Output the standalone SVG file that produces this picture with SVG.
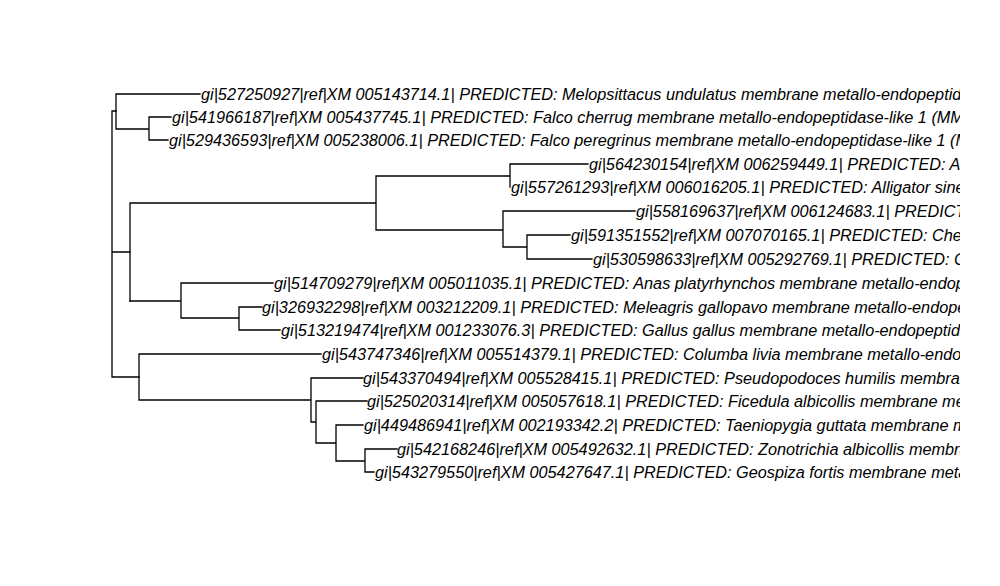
<svg xmlns="http://www.w3.org/2000/svg" width="1000" height="586" viewBox="0 0 1000 586">
<defs>
<clipPath id="plotclip"><rect x="0" y="0" width="960" height="586"/></clipPath>
</defs>
<style>
.e{fill:none;stroke:#000;stroke-width:1.3;stroke-linecap:square}
.t{font-family:"Liberation Sans",Arial,sans-serif;font-style:italic;font-size:16.25px;fill:#000}
</style>
<rect width="1000" height="586" fill="#fff"/>
<g id="connectors">
<path class="e" d="M112,111V377 M112,111H116 M112,252H130 M112,377H139"/>
<path class="e" d="M116,94V129 M116,94H200 M116,129H149 M149,117V140 M149,117H171 M149,140H168"/>
<path class="e" d="M130,203V301 M130,203H376 M376,176V230 M376,176H510 M510,164V187 M510,164H588 M376,230H503 M503,211V247 M503,211H635 M503,247H527 M527,235V259 M527,235H570 M527,259H592"/>
<path class="e" d="M130,301H181 M181,283V318 M181,283H273 M181,318H239 M239,307V330 M239,307H262 M239,330H280"/>
<path class="e" d="M139,354V400 M139,354H321 M139,400H311 M311,378V422 M311,378H363 M311,422H316 M316,401V443 M316,401H367 M316,443H336 M336,425V461 M336,425H363 M336,461H365 M365,449V472 M365,449H397 M365,472H374"/>
</g>
<g clip-path="url(#plotclip)">
<g id="tip1"><text class="t" x="201" y="100">gi|527250927|ref|XM 005143714.1| PREDICTED: Melopsittacus undulatus membrane metallo-endopeptidase</text></g>
<g id="tip2"><text class="t" x="172" y="123">gi|541966187|ref|XM 005437745.1| PREDICTED: Falco cherrug membrane metallo-endopeptidase-like 1 (MMEL1)</text></g>
<g id="tip3"><text class="t" x="169" y="146">gi|529436593|ref|XM 005238006.1| PREDICTED: Falco peregrinus membrane metallo-endopeptidase-like 1 (MMEL1)</text></g>
<g id="tip4"><text class="t" x="589" y="170">gi|564230154|ref|XM 006259449.1| PREDICTED: Alligator</text></g>
<g id="tip5"><text class="t" x="511" y="193">gi|557261293|ref|XM 006016205.1| PREDICTED: Alligator sinensis</text></g>
<g id="tip6"><text class="t" x="636" y="217">gi|558169637|ref|XM 006124683.1| PREDICTED</text></g>
<g id="tip7"><text class="t" x="571" y="241">gi|591351552|ref|XM 007070165.1| PREDICTED: Chelonia</text></g>
<g id="tip8"><text class="t" x="593" y="265">gi|530598633|ref|XM 005292769.1| PREDICTED: Chrysemys</text></g>
<g id="tip9"><text class="t" x="274" y="289">gi|514709279|ref|XM 005011035.1| PREDICTED: Anas platyrhynchos membrane metallo-endopeptidase</text></g>
<g id="tip10"><text class="t" x="262" y="313">gi|326932298|ref|XM 003212209.1| PREDICTED: Meleagris gallopavo membrane metallo-endopeptidase</text></g>
<g id="tip11"><text class="t" x="281" y="336">gi|513219474|ref|XM 001233076.3| PREDICTED: Gallus gallus membrane metallo-endopeptidase</text></g>
<g id="tip12"><text class="t" x="322" y="360">gi|543747346|ref|XM 005514379.1| PREDICTED: Columba livia membrane metallo-endopeptidase</text></g>
<g id="tip13"><text class="t" x="363" y="384">gi|543370494|ref|XM 005528415.1| PREDICTED: Pseudopodoces humilis membrane</text></g>
<g id="tip14"><text class="t" x="367" y="407">gi|525020314|ref|XM 005057618.1| PREDICTED: Ficedula albicollis membrane metallo</text></g>
<g id="tip15"><text class="t" x="364" y="431">gi|449486941|ref|XM 002193342.2| PREDICTED: Taeniopygia guttata membrane metallo</text></g>
<g id="tip16"><text class="t" x="397" y="455">gi|542168246|ref|XM 005492632.1| PREDICTED: Zonotrichia albicollis membrane</text></g>
<g id="tip17"><text class="t" x="375" y="478">gi|543279550|ref|XM 005427647.1| PREDICTED: Geospiza fortis membrane metallo</text></g>
</g>
</svg>
